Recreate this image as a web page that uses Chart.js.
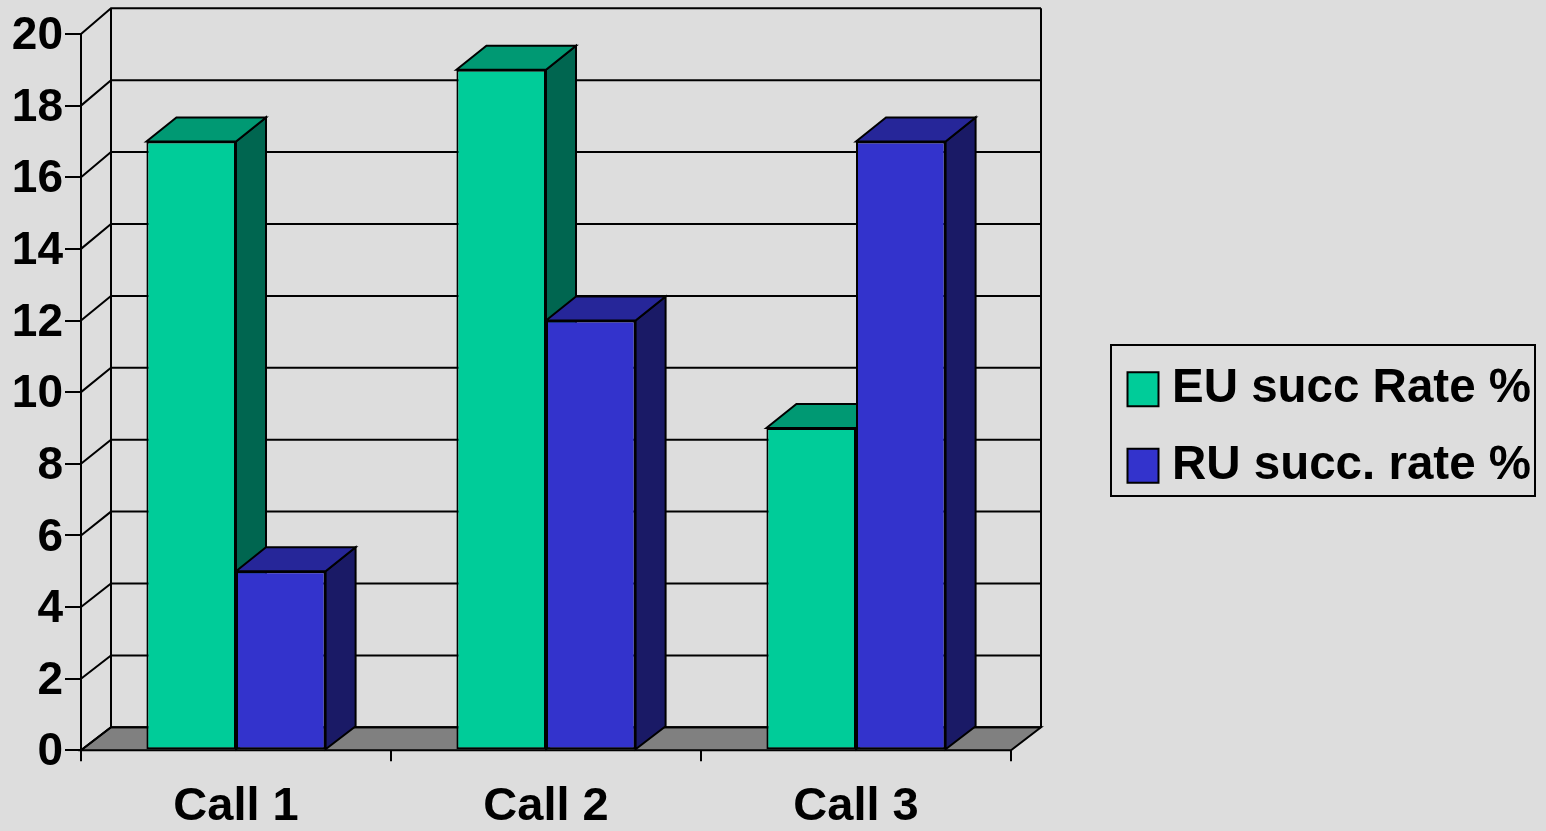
<!DOCTYPE html>
<html>
<head>
<meta charset="utf-8">
<title>Success rates</title>
<script src="https://cdn.jsdelivr.net/npm/chart.js@4"></script>
<style>
    html, body { margin: 0; padding: 0; background: #dddddd; overflow: hidden; }
    #wrap { width: 1546px; height: 831px; }
</style>
</head>
<body>
<div id="wrap"><canvas id="myBarChart"></canvas></div>
<script>
var categories = ["Call 1", "Call 2", "Call 3"];
var euValues = [17, 19, 9];
var ruValues = [5, 12, 17];
var seriesNames = ["EU succ Rate %", "RU succ. rate %"];

var fontName = '"Liberation Sans", Arial, sans-serif';
var fontSize = 47;

// how far the back of the box sits from the front plane
var depthX = 30;
var depthY = -23;
var barDepthTop = -24;
// the back wall is drawn a little taller than the front axis
var wallStretch = 0.135;

function polygon(ctx, points, fill) {
    ctx.beginPath();
    ctx.moveTo(points[0][0], points[0][1]);
    for (var i = 1; i < points.length; i++) {
        ctx.lineTo(points[i][0], points[i][1]);
    }
    ctx.closePath();
    if (fill) {
        ctx.fillStyle = fill;
        ctx.fill();
    }
    ctx.stroke();
}

var box3d = {
    id: 'box3d',

    // put the legend where the original has it, chart area stays untouched
    afterUpdate: function (chart) {
        var legend = chart.legend;
        legend.left = 1098.5;
        legend.right = 1531;
        legend.top = 336.5;
        legend.bottom = 520;
        legend.width = legend.right - legend.left;
        legend.height = legend.bottom - legend.top;
    },

    beforeDatasetsDraw: function (chart) {
        var ctx = chart.ctx;
        var area = chart.chartArea;
        var y = chart.scales.y;
        var bottom = y.getPixelForValue(0);
        var backY = function (value) {
            return y.getPixelForValue(value) + depthY - value * wallStretch;
        };

        ctx.save();
        ctx.strokeStyle = '#000';
        ctx.lineWidth = 2;

        // floor
        polygon(ctx, [
            [area.left, bottom],
            [area.left + depthX, backY(0)],
            [area.right + depthX, backY(0)],
            [area.right, bottom]
        ], '#808080');

        // grid lines, along the left wall and then the back wall
        y.ticks.forEach(function (tick) {
            ctx.beginPath();
            ctx.moveTo(area.left, y.getPixelForValue(tick.value));
            ctx.lineTo(area.left + depthX, backY(tick.value));
            ctx.lineTo(area.right + depthX, backY(tick.value));
            ctx.stroke();
        });

        // back wall edges
        ctx.beginPath();
        ctx.moveTo(area.left + depthX, backY(y.max));
        ctx.lineTo(area.left + depthX, backY(0));
        ctx.moveTo(area.right + depthX, backY(y.max));
        ctx.lineTo(area.right + depthX, backY(0));
        ctx.stroke();

        // top and side of each bar, the front comes from the bar itself
        chart.data.datasets.forEach(function (ds, i) {
            chart.getDatasetMeta(i).data.forEach(function (bar) {
                var left = bar.x - bar.width / 2;
                var right = bar.x + bar.width / 2;
                polygon(ctx, [
                    [right, bar.y],
                    [right + depthX, bar.y + barDepthTop],
                    [right + depthX, bar.base + depthY],
                    [right, bar.base]
                ], ds.sideColor);
                polygon(ctx, [
                    [left, bar.y],
                    [left + depthX, bar.y + barDepthTop],
                    [right + depthX, bar.y + barDepthTop],
                    [right, bar.y]
                ], ds.topColor);
            });
        });
        ctx.restore();
    },

    afterDraw: function (chart) {
        // legend frame
        var ctx = chart.ctx;
        ctx.save();
        ctx.strokeStyle = '#000';
        ctx.lineWidth = 2;
        ctx.strokeRect(1111, 345, 424, 151);
        ctx.restore();
    }
};

var chart = new Chart(document.getElementById('myBarChart').getContext('2d'), {
    type: 'bar',
    data: {
        labels: categories,
        datasets: [{
            label: seriesNames[0],
            data: euValues,
            backgroundColor: '#00cc99',
            sideColor: '#006650',
            topColor: '#009973',
            borderColor: '#000',
            borderWidth: 2,
            borderSkipped: false
        }, {
            label: seriesNames[1],
            data: ruValues,
            backgroundColor: '#3333cc',
            sideColor: '#1a1a66',
            topColor: '#262699',
            borderColor: '#000',
            borderWidth: 2,
            borderSkipped: false
        }]
    },
    options: {
        responsive: true,
        maintainAspectRatio: false,
        animation: false,
        layout: {
            padding: { left: 0, right: 535, top: 34, bottom: 0 }
        },
        datasets: {
            bar: { categoryPercentage: 0.578, barPercentage: 1 }
        },
        scales: {
            x: {
                afterFit: function (scale) { scale.height = 80.7; },
                grid: { drawOnChartArea: false, color: '#000', lineWidth: 2, tickLength: 11 },
                border: { color: '#000', width: 2 },
                ticks: {
                    color: '#000',
                    padding: 18,
                    maxRotation: 0,
                    font: { family: fontName, size: fontSize, weight: 'bold' }
                }
            },
            y: {
                min: 0,
                max: 20,
                afterFit: function (scale) { scale.width = 81; },
                grid: { drawOnChartArea: false, color: '#000', lineWidth: 2, tickLength: 16 },
                border: { color: '#000', width: 2 },
                ticks: {
                    stepSize: 2,
                    color: '#000',
                    padding: 2,
                    labelOffset: 2.5,
                    autoSkip: false,
                    font: { family: fontName, size: 46, weight: 'bold' }
                }
            }
        },
        plugins: {
            title: { display: false },
            tooltip: { enabled: false },
            legend: {
                position: 'chartArea',
                align: 'start',
                labels: {
                    boxWidth: 31,
                    boxHeight: 34,
                    padding: 29,
                    color: '#000',
                    textAlign: 'right',
                    font: { family: fontName, size: 47.5, weight: 'bold' }
                }
            }
        }
    },
    plugins: [box3d]
});
</script>
</body>
</html>
